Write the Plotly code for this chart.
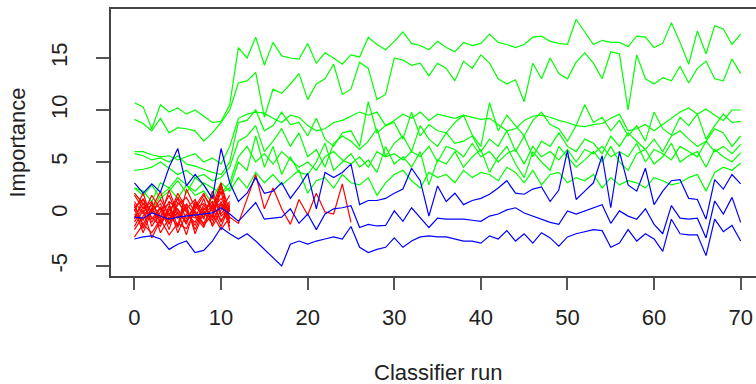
import plotly.graph_objects as go

# ---------------- data ----------------
runs = list(range(0, 71))

green_series = [
    # G1 (top)
    [10.7, 10.3, 8.2, 10.5, 9.8, 10.2, 9.6, 10.0, 9.4, 8.8, 8.9, 10.5,
     16.0, 15.0, 17.0, 14.3, 16.5, 15.2, 15.0, 14.9, 16.4, 14.5, 15.5, 15.0, 14.4, 15.3,
     15.1, 17.0, 16.3, 15.8, 16.6, 17.5, 16.4, 16.2, 15.8, 16.6, 16.0, 15.6, 16.5, 16.2, 16.4,
     17.3, 16.5, 16.3, 16.0, 16.3, 17.0, 17.1, 16.6, 16.4, 16.3, 18.7, 17.5, 16.3, 16.7, 16.5,
     16.5, 16.1, 17.1, 17.0, 16.0, 16.4, 18.4, 16.5, 14.4, 17.6, 15.4, 18.1, 17.8, 16.3, 17.3],
    # G2
    [9.1, 8.7, 8.0, 9.2, 7.8, 8.3, 8.2, 8.0, 7.0, 7.8, 8.8, 10.0,
     12.6, 12.8, 13.6, 9.3, 12.0, 11.6, 12.5, 13.5, 11.0, 12.5, 13.0, 14.4, 11.5, 12.0,
     14.6, 14.0, 11.0, 11.5, 15.0, 14.8, 14.3, 14.5, 13.3, 14.5, 14.0, 12.8, 14.7, 14.0, 15.3,
     14.5, 13.0, 12.5, 12.9, 10.8, 14.5, 13.0, 15.0, 13.5, 13.0, 14.6, 15.5, 14.5, 13.0, 15.6,
     15.4, 10.0, 15.3, 13.0, 12.5, 13.1, 12.8, 14.2, 12.6, 14.0, 14.7, 13.0, 12.8, 14.9, 13.5],
    # G3
    [6.0, 6.0, 5.7, 5.5, 5.6, 5.2, 5.5, 5.8, 5.0, 5.4, 4.8, 6.5,
     9.2, 9.6, 9.8, 9.7, 9.2, 8.8, 9.5, 9.3, 8.5, 8.0, 8.2, 8.8, 9.0, 9.4,
     9.8, 9.5, 9.8, 8.5, 9.0, 9.6, 9.2, 9.8, 9.0, 9.6, 9.4, 9.2, 9.5, 9.3, 9.1,
     9.2, 8.6, 8.0, 8.2, 9.0, 9.4, 9.5, 9.3, 9.0, 8.8, 8.5, 8.4, 8.6, 8.7, 9.2,
     9.6, 8.0, 8.2, 8.6, 8.0, 8.6, 9.2, 9.8, 10.2, 9.6, 10.1, 9.5, 9.0, 10.0, 10.0],
    # G4
    [5.8, 5.6, 5.2, 5.4, 5.0, 5.6, 4.8, 4.6, 4.3, 4.0, 3.8, 5.0,
     8.8, 9.0, 10.0, 8.0, 8.5, 9.8, 8.6, 8.8, 7.5, 9.2, 7.2, 6.5, 7.8, 8.0,
     6.5, 10.8, 7.8, 8.5, 8.8, 7.2, 9.8, 7.5, 8.6, 8.0, 7.8, 8.8, 9.5, 7.6, 6.5,
     10.7, 8.0, 9.5, 8.5, 7.5, 9.0, 9.8, 8.6, 8.2, 7.0, 8.5, 10.5, 8.8, 9.3, 8.0,
     9.0, 7.5, 8.5, 7.0, 9.8, 8.2, 7.6, 9.3, 8.5, 9.6, 7.2, 8.5, 9.6, 8.8, 8.9],
    # G5
    [4.2, 4.3, 4.5, 5.0, 4.4, 3.8, 4.2, 3.5, 3.8, 3.2, 3.5, 4.5,
     7.0, 7.5, 8.5, 6.0, 7.0, 8.2, 6.5, 7.8, 5.5, 6.2, 4.5, 6.8, 7.5, 7.0,
     6.2, 7.0, 8.2, 5.5, 6.8, 7.5, 6.0, 8.5, 7.2, 6.5, 7.8, 6.8, 7.0, 7.5, 6.0,
     7.2, 6.5, 8.0, 6.0, 7.5, 5.5, 7.0, 6.5, 7.8, 6.5, 6.0, 7.2, 6.8, 5.8, 7.5,
     6.5, 7.8, 7.0, 6.2, 7.2, 6.0, 7.5, 8.0, 7.2, 6.5, 7.0, 8.2, 7.8, 6.5, 7.5],
    # G6
    [2.5, 2.2, 1.2, 3.0, 2.5, 3.5, 2.8, 2.2, 3.0, 2.5, 2.0, 3.0,
     5.5, 6.5, 5.0, 5.8, 4.8, 6.0, 5.2, 4.5, 5.0, 4.2, 5.5, 6.0, 5.2, 4.8,
     5.5, 4.5, 6.0, 5.5, 5.8, 5.2, 6.0, 5.5, 6.5, 5.0, 6.5, 6.2, 5.5, 6.8, 5.5,
     6.0, 5.0, 5.8, 6.2, 4.8, 6.5, 5.5, 6.0, 5.2, 6.2, 5.0, 6.2, 5.8, 6.5, 5.5,
     6.0, 5.5, 6.8, 5.0, 6.2, 5.8, 5.2, 6.5, 6.0, 5.5, 7.0, 6.0, 6.5, 5.8, 6.7],
    # G7
    [2.0, 1.0, 0.3, 1.8, 2.5, 1.5, 2.8, 1.8, 2.2, 1.0, 2.0, 2.5,
     5.0, 4.2, 7.5, 4.5, 6.5, 3.8, 5.5, 4.0, 3.8, 5.0, 6.8, 4.2, 5.0, 5.8,
     4.5, 5.2, 4.0, 6.5, 4.8, 5.5, 4.5, 6.0, 2.8, 5.2, 4.8, 6.0, 4.5, 5.5, 6.2,
     4.0, 5.5, 6.5, 4.8, 3.5, 6.0, 5.0, 4.2, 6.5, 5.5, 4.5, 5.2, 6.0, 5.0, 6.5,
     5.0, 4.2, 5.8, 6.2, 4.8, 5.5, 6.8, 5.0, 5.6, 6.0, 4.5, 6.2, 5.5, 5.0, 5.9],
    # G8 (lowest)
    [2.5, 1.8, 2.8, 1.5, 2.2, 3.2, 2.0, 3.5, 2.8, 1.5, 3.0, 2.2,
     3.5, 2.5, 4.0, 3.0, 3.8, 2.8, 3.5, 4.2, 2.0, 3.2, 3.5, 2.5, 3.8, 3.0,
     2.8, 3.5, 1.8, 3.0, 3.8, 4.2, 3.2, 2.5, 4.0, 3.5, 3.8, 3.0, 4.2, 3.5, 4.0,
     3.8, 3.2, 4.5, 4.0, 3.0, 4.2, 2.8, 3.8, 4.0, 3.0, 3.5, 3.2, 3.8, 2.5, 3.5,
     2.8, 3.2, 3.0, 2.5, 3.5, 3.2, 2.8, 3.0, 3.5, 3.8, 2.2, 4.0, 4.5, 4.2, 4.9],
]

red_series = [
    [1.8, 0.5, 1.2, -0.8, 0.3, 1.5, -0.5, 0.8, 2.0, 0.2, 2.8, 0.3],
    [-0.5, 1.5, -1.2, 0.2, 1.8, -0.3, 0.6, -1.5, 0.4, 1.2, -0.8, 1.0],
    [0.8, -1.0, 0.5, 2.2, -0.6, 0.9, 1.6, 0.1, -0.9, 0.7, 3.0, -0.5],
    [-1.5, -0.2, 0.9, -1.8, -0.4, 0.5, -1.0, 1.2, 0.3, -0.6, 0.9, -1.2],
    [0.3, 2.0, -0.5, 0.7, -1.5, 1.1, 0.2, -0.4, 1.5, -1.2, 0.4, 1.8],
    [-2.2, -1.0, -1.8, -0.5, -2.0, -0.9, -1.4, 0.3, -1.1, 0.0, -1.5, -0.3],
    [1.2, 0.0, 1.8, 0.4, 1.0, -1.2, 2.4, 0.6, 1.0, 0.5, 1.5, 0.2],
    [-0.8, 0.7, -0.3, -1.2, 0.8, -1.8, 0.0, -0.8, 0.9, -0.4, 2.2, -1.6],
    [0.5, -1.8, 0.3, 1.0, -0.9, 0.2, -2.0, 0.8, -0.3, 1.8, -0.2, 0.6],
    [-1.2, 0.4, -2.3, -0.6, 0.5, -0.4, 0.9, -1.9, 0.2, -1.0, 1.2, -0.8],
    [2.0, 1.0, 0.2, 1.4, -0.2, 2.0, 0.5, 1.4, -0.5, 2.2, 0.0, 1.2],
    [0.0, -0.6, 1.1, -0.3, 2.3, 0.0, -0.7, 0.4, 1.8, 0.6, -1.2, 0.8],
    [-0.3, 1.0, -0.8, 0.6, -1.0, 1.6, 0.3, -1.1, 0.6, -0.3, 2.6, -0.9],
    [1.0, -1.4, 0.6, -0.9, 0.1, -1.3, 1.0, -0.2, -1.3, 1.0, -0.6, 0.4],
    [0.6, 1.4, 0.2, -0.4, 1.2, 0.4, -0.8, 1.0, 0.0, 0.8, 1.0, -0.3,
     -0.9, 1.5, 3.8, 0.5, 2.5, 0.5, -1.0, 1.4, -0.1, 2.0, 0.2, 0.0, 2.9, -0.8],
]

shadow_max = [3.0, 2.0, 2.9, 2.1, 4.5, 6.3, 2.7, 3.8, 2.8, 1.5, 6.3, 3.0,
              1.2, 2.0, 3.5, 2.0, 2.2, 3.0, 1.5, 2.6, 3.9, 0.5, 4.0, 3.5, 4.0, 4.8,
              0.9, 1.3, 1.3, 1.5, 2.0, 2.4, 4.4, 3.2, -0.2, 2.7, 1.2, 2.0, 0.9, 1.3, 1.5,
              1.9, 2.5, 3.2, 2.0, 1.9, 2.4, 2.6, 1.2, 2.3, 6.1, 1.4, 2.2, 3.0, 5.6, 0.6,
              6.0, 2.8, 2.2, 4.4, 0.9, 2.2, 3.2, 3.3, 1.5, 1.4, -0.5, 3.3, 2.4, 3.8, 2.9]
shadow_mean = [-0.3, -0.4, 0.1, -0.2, -0.5, -0.3, -0.2, -0.1, 0.0, 0.1, 0.6, 0.0,
               -0.7, 0.2, 1.1, -0.5, -0.4, -0.3, 0.5, -0.9, 0.0, -1.5, 0.0, 0.5, 0.6, 0.8,
               -1.3, -1.0, -1.15, -1.1, 0.3, -0.7, 0.6, -0.3, -1.3, -0.4, -0.5, -0.5, -0.5, -0.6, -0.7,
               -0.2, 0.0, 0.4, 0.6, 0.1, -0.2, -0.5, -0.8, -1.0, 0.3, 0.0, 0.3, 0.6, 0.9, -0.9,
               0.3, -0.2, -0.5, 0.5, -1.0, -1.9, 0.8, -0.4, -0.5, -0.4, -2.3, 1.25, 0.0, 1.6, -0.8]
shadow_min = [-2.4, -2.2, -2.1, -2.4, -3.4, -2.9, -2.6, -3.7, -3.5, -2.6, -1.3, -1.9,
              -2.4, -1.9, -2.6, -3.4, -4.2, -5.0, -2.9, -2.6, -2.9, -2.6, -2.4, -2.2, -2.4, -1.2,
              -3.2, -3.7, -3.4, -3.2, -2.3, -3.2, -2.6, -2.2, -2.1, -2.2, -2.2, -2.4, -2.6, -2.6, -2.8,
              -2.1, -2.4, -1.6, -2.6, -1.9, -2.8, -1.8, -2.3, -3.1, -2.2, -1.9, -1.7, -1.5, -1.6, -3.2,
              -2.8, -1.5, -2.6, -1.9, -2.4, -3.6, -0.5, -1.9, -2.0, -2.0, -4.0, -0.5, -1.7, -1.1, -2.6]

x_ticks = [0, 10, 20, 30, 40, 50, 60, 70]
y_ticks = [-5, 0, 5, 10, 15]

# ---------------- figure ----------------
fig = go.Figure()
LW = 1.2
for s in green_series:
    fig.add_trace(go.Scatter(x=runs[:len(s)], y=s, mode="lines",
                             line=dict(color="#00ff00", width=LW), hoverinfo="skip"))
for s in red_series:
    fig.add_trace(go.Scatter(x=runs[:len(s)], y=s, mode="lines",
                             line=dict(color="#ff0000", width=LW), hoverinfo="skip"))
for s in (shadow_max, shadow_mean, shadow_min):
    fig.add_trace(go.Scatter(x=runs[:len(s)], y=s, mode="lines",
                             line=dict(color="#0000ff", width=LW), hoverinfo="skip"))

font = dict(family="Liberation Sans, Arial, sans-serif", size=22, color="#222222")

# Plot box at page x 111..756, y 9..276 (body margin removed in the page).
PLOT_TOP, PLOT_BOTTOM, PLOT_LEFT = 9, 276, 111
W, H = 756, 384
plot_w = W - PLOT_LEFT
plot_h = PLOT_BOTTOM - PLOT_TOP

fig.update_layout(
    width=W, height=H,
    margin=dict(l=PLOT_LEFT, r=0, t=PLOT_TOP, b=H - PLOT_BOTTOM, autoexpand=False),
    paper_bgcolor="white", plot_bgcolor="white",
    showlegend=False,
    font=font,
    xaxis=dict(range=[-2.71, 71.77], tickvals=x_ticks, ticktext=[str(v) for v in x_ticks],
               showgrid=False, zeroline=False, showline=True, mirror=True,
               linecolor="#444444", linewidth=1.5, ticks="outside", ticklen=12,
               tickcolor="#555555", tickwidth=1.5, ticklabelstandoff=9,
               tickfont=font, automargin=False),
    yaxis=dict(range=[-5.96, 19.71], tickvals=y_ticks, ticktext=[str(v) for v in y_ticks],
               showgrid=False, zeroline=False, showline=True, mirror=False,
               linecolor="#444444", linewidth=1.5, ticks="outside", ticklen=13,
               tickcolor="#555555", tickwidth=1.5, tickangle=-90, ticklabelstandoff=20,
               tickfont=font, automargin=False),
    annotations=[
        dict(text="Classifier run", xref="paper", yref="paper",
             x=(438 - PLOT_LEFT) / plot_w, y=(PLOT_BOTTOM - 372) / plot_h,
             xanchor="center", yanchor="middle", showarrow=False, font=font),
        dict(text="Importance", xref="paper", yref="paper",
             x=(17 - PLOT_LEFT) / plot_w, y=0.5, xanchor="center", yanchor="middle",
             textangle=-90, showarrow=False, font=font),
    ],
)

fig.write_html("out.html", config={"displayModeBar": False},
               post_script="document.body.style.margin='0px';document.body.style.overflow='hidden';")
